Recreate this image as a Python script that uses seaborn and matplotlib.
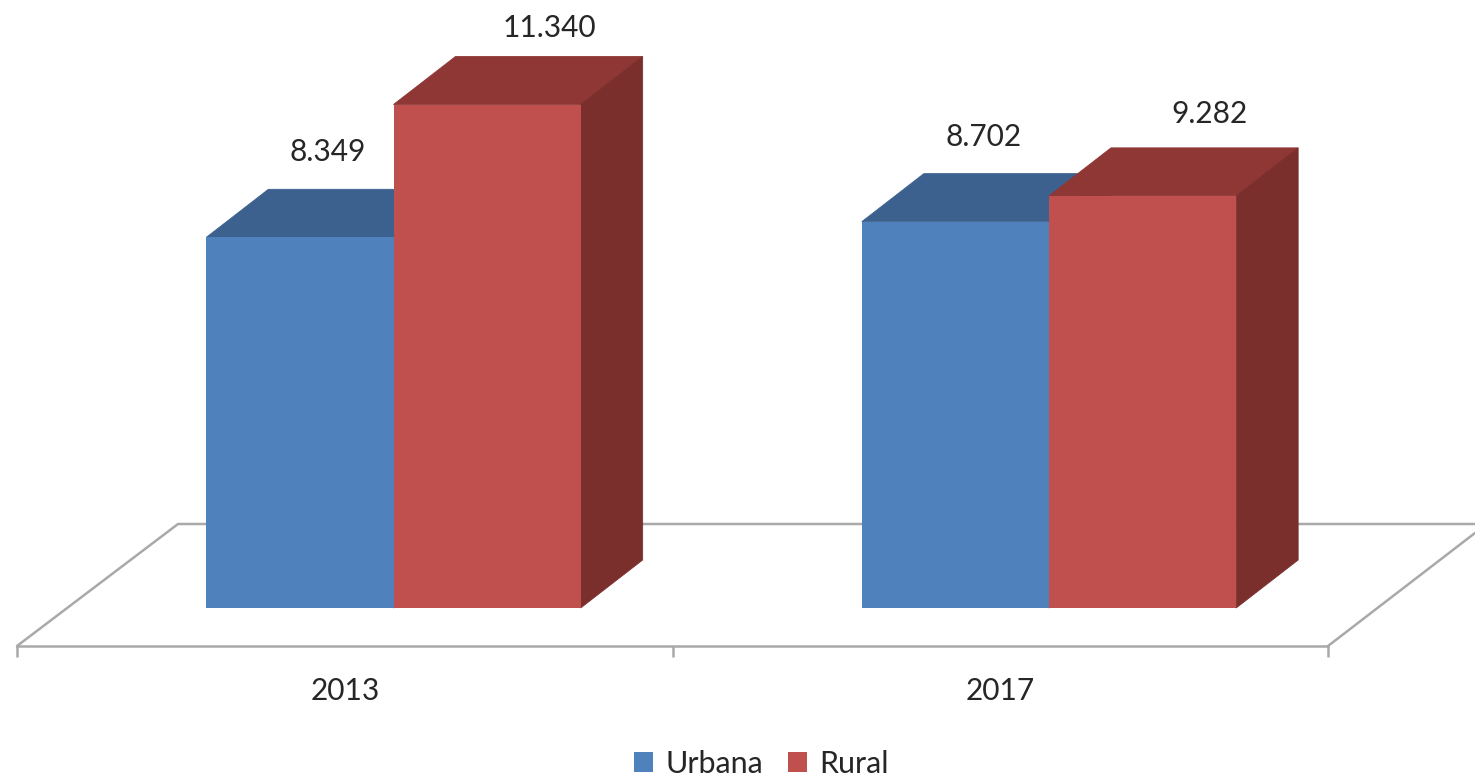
import matplotlib
matplotlib.use('Agg')
import matplotlib.pyplot as plt
import pandas as pd
import seaborn as sns
from matplotlib.patches import Polygon
from matplotlib.transforms import Affine2D

# valores
anos = ['2013', '2017']
urbana = [8349, 8702]
rural = [11340, 9282]
series = ['Urbana', 'Rural']

cores = ['#4F81BD', '#C0504D']
cores_topo = ['#3D618F', '#8E3735']
cores_lado = ['#345377', '#7A2F2D']
cor_linha = '#A9A9A9'
cor_texto = '#262626'

W, H = 1475, 776
PX_POR_VALOR = 0.0444  # pixels por unidade no eixo y
SHIFT_X, SHIFT_Y = 48.75, 38  # desloca as barras para dentro do "chao"
PROF_X, PROF_Y = 62, 48  # profundidade do efeito 3D
# deslocamento de cada rotulo (pixels) a partir do topo frontal da barra
desloc_rotulos = [[(28, 85), (28, 85)], [(62, 77), (67, 82)]]

sns.set_theme(style='white')
plt.rcParams['font.family'] = ['Lato', 'DejaVu Sans']

df = pd.DataFrame({
    'ano': anos * 2,
    'zona': [series[0]] * 2 + [series[1]] * 2,
    'valor': urbana + rural,
})

fig = plt.figure(figsize=(W / 100, H / 100), dpi=100)
ax = fig.add_axes([17 / W, (H - 646) / H, (1328 - 17) / W, 646 / H])

sns.barplot(data=df, x='ano', y='valor', hue='zona', palette=cores, saturation=1,
            width=0.571, gap=0, linewidth=0, ax=ax)

ax.set_xlim(-0.5, 1.5)
ax.set_ylim(0, 646 / PX_POR_VALOR)
ax.patch.set_alpha(0)

desloc = ax.transData + Affine2D().translate(SHIFT_X, SHIFT_Y)
prof_x = PROF_X * 2 / (1328 - 17)
prof_y = PROF_Y / PX_POR_VALOR

for i, container in enumerate(ax.containers):
    for j, bar in enumerate(container):
        x0 = bar.get_x()
        x1 = x0 + bar.get_width()
        h = bar.get_height()
        bar.set_transform(desloc)
        bar.set_clip_on(False)
        bar.set_zorder(3 + 2 * i)
        # topo e lateral da barra
        topo = [(x0, h), (x1, h), (x1 + prof_x, h + prof_y), (x0 + prof_x, h + prof_y)]
        lado = [(x1, 0), (x1, h), (x1 + prof_x, h + prof_y), (x1 + prof_x, prof_y)]
        ax.add_patch(Polygon(topo, closed=True, fc=cores_topo[i], ec=cores_topo[i], lw=0.6,
                             transform=desloc, clip_on=False, zorder=2 + 2 * i))
        ax.add_patch(Polygon(lado, closed=True, fc=cores_lado[i], ec=cores_lado[i], lw=0.6,
                             transform=desloc, clip_on=False, zorder=2 + 2 * i))
        rotulo = f'{int(h):,}'.replace(',', '.')
        ax.annotate(rotulo, xy=((x0 + x1) / 2, h), xycoords=desloc,
                    xytext=(desloc_rotulos[i][j][0] * 0.72, desloc_rotulos[i][j][1] * 0.72),
                    textcoords='offset points', ha='center', va='center',
                    fontsize=21.5, color=cor_texto, annotation_clip=False, zorder=10)

# chao do grafico
px = Affine2D().scale(1 / W, -1 / H).translate(0, 1) + fig.transFigure
ax.plot([17, 178, 1475], [646, 524, 524], color=cor_linha, lw=1.8, transform=px,
        clip_on=False, zorder=1, solid_joinstyle='miter')
ax.plot([1328, 1475], [646, 533], color=cor_linha, lw=1.8, transform=px,
        clip_on=False, zorder=1)

sns.despine(ax=ax, left=True)
ax.spines['bottom'].set_color(cor_linha)
ax.spines['bottom'].set_linewidth(1.8)
ax.set_yticks([])
ax.set_xlabel('')
ax.set_ylabel('')
ax.set_xticks([-0.5, 0.5, 1.5], ['', '', ''])
ax.set_xticks([0, 1], anos, minor=True)
ax.tick_params(axis='x', which='major', bottom=True, length=8, width=1.8, color=cor_linha)
ax.tick_params(axis='x', which='minor', bottom=False, length=0, pad=22, labelsize=21.5,
               labelcolor=cor_texto)

sns.move_legend(ax, 'center', bbox_to_anchor=(761.5 / W, (H - 764) / H),
                bbox_transform=fig.transFigure, ncol=2, frameon=False, title=None,
                fontsize=22, handlelength=0.62, handleheight=0.62, handletextpad=0.4,
                columnspacing=0.8, labelcolor=cor_texto, borderpad=0)

fig.savefig('out.png', dpi=100)
